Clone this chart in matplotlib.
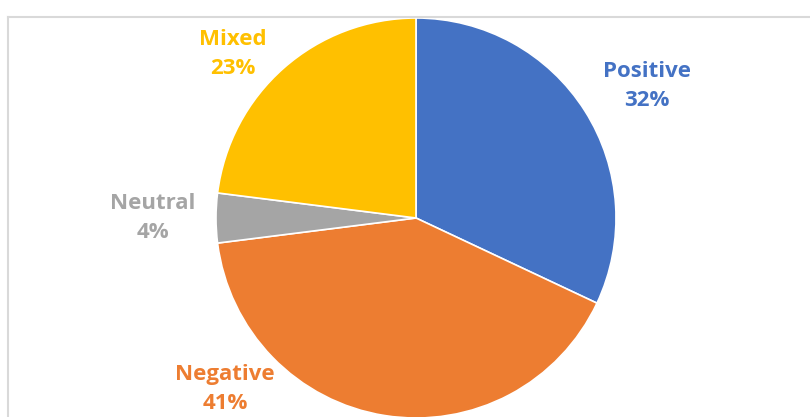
import matplotlib.pyplot as plt
from matplotlib.lines import Line2D

# Données du graphique
categories = ['Positive', 'Negative', 'Neutral', 'Mixed']
shares = [32, 41, 4, 23]
colors = ['#4472C4', '#ED7D31', '#A5A5A5', '#FFC000']

W, H = 810, 417
fig = plt.figure(figsize=(W / 100, H / 100), dpi=100)
ax = fig.add_axes([0, 0, 1, 1])

# Camembert (centre et rayon en pixels)
cx, cy, r = 416, H - 218, 200
ax.pie(shares, colors=colors, startangle=90, counterclock=False,
       center=(cx, cy), radius=r, frame=True,
       wedgeprops={'edgecolor': 'white', 'linewidth': 1.2})
ax.set_xlim(0, W)
ax.set_ylim(0, H)
ax.set_aspect('equal')
ax.axis('off')

# Étiquettes (position de type "meilleur ajustement" d'Excel)
label_pos = {'Positive': (647, 86), 'Negative': (225, 389),
             'Neutral': (153, 218), 'Mixed': (233, 54)}
for cat, val, col in zip(categories, shares, colors):
    x, y = label_pos[cat]
    ax.text(x, H - y, f'{cat}\n{val}%', ha='center', va='center',
            color=col, fontsize=16, fontweight='bold', family='Open Sans',
            linespacing=1.45)

# Cadre gris clair (coupé à droite et en bas)
fig.add_artist(Line2D([8 / W, 8 / W], [0, 1 - 16.5 / H],
                      color='#D9D9D9', lw=1.5, transform=fig.transFigure))
fig.add_artist(Line2D([8 / W, 1], [1 - 16.5 / H, 1 - 16.5 / H],
                      color='#D9D9D9', lw=1.5, transform=fig.transFigure))

fig.savefig('out.png', dpi=100)
